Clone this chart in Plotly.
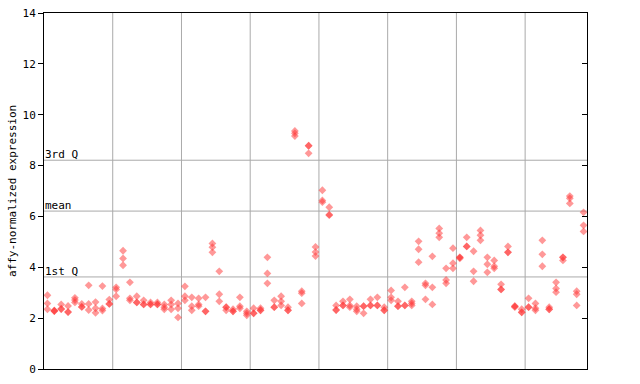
import plotly.graph_objects as go

# replicate expression values per sample (sample index 1..79)
sample_values = [
    [2.90, 2.58, 2.35], [2.28, 2.28, 2.30], [2.54, 2.36, 2.36], [2.48, 2.24, 2.24],
    [2.80, 2.71, 2.62], [2.56, 2.44, 2.44], [3.29, 2.56, 2.32], [2.63, 2.39, 2.21],
    [3.26, 2.38, 2.30], [2.73, 2.56, 2.56], [3.21, 3.13, 2.86], [4.65, 4.35, 4.08],
    [3.41, 2.78, 2.70], [2.86, 2.62, 2.62], [2.70, 2.54, 2.54], [2.62, 2.54, 2.54],
    [2.62, 2.54, 2.54], [2.54, 2.43, 2.35], [2.70, 2.54, 2.35], [2.58, 2.39, 2.03],
    [3.25, 2.86, 2.70], [2.82, 2.47, 2.31], [2.78, 2.54, 2.47], [2.82, 2.27, 2.27],
    [4.94, 4.79, 4.59], [3.84, 2.94, 2.66], [2.43, 2.43, 2.31], [2.35, 2.27, 2.27],
    [2.82, 2.47, 2.39], [2.27, 2.19, 2.11], [2.39, 2.19, 2.19], [2.39, 2.31, 2.31],
    [4.39, 3.76, 3.37], [2.70, 2.43, 2.43], [2.86, 2.66, 2.50], [2.43, 2.31, 2.31],
    [9.36, 9.27, 9.16], [3.06, 2.98, 2.58], [8.78, 8.78, 8.48], [4.80, 4.60, 4.44],
    [7.03, 6.63, 6.56], [6.36, 6.07, 6.05], [2.50, 2.32, 2.32], [2.66, 2.50, 2.50],
    [2.74, 2.50, 2.43], [2.47, 2.35, 2.27], [2.47, 2.47, 2.19], [2.74, 2.50, 2.50],
    [2.82, 2.50, 2.50], [2.43, 2.31, 2.31], [3.09, 2.82, 2.70], [2.66, 2.47, 2.47],
    [3.21, 2.50, 2.50], [2.66, 2.58, 2.50], [5.02, 4.71, 4.20], [3.37, 3.29, 2.74],
    [4.43, 3.21, 2.54], [5.53, 5.34, 5.18], [3.96, 3.50, 3.37], [4.75, 4.16, 3.96],
    [4.39, 4.39, 4.35], [5.18, 4.82, 4.82], [4.63, 3.84, 3.45], [5.45, 5.26, 5.06],
    [4.39, 4.12, 3.80], [4.27, 4.04, 3.96], [3.33, 3.13, 3.13], [4.82, 4.59, 4.59],
    [2.47, 2.47, 2.43], [2.35, 2.23, 2.23], [2.78, 2.43, 2.43], [2.58, 2.39, 2.31],
    [5.06, 4.51, 4.04], [2.43, 2.35, 2.35], [3.41, 3.17, 3.02], [4.39, 4.39, 4.27],
    [6.80, 6.71, 6.51], [3.06, 2.94, 2.50], [6.16, 5.65, 5.41],
]
group_boundaries = [10.5, 20.5, 30.5, 40.5, 50.5, 60.5, 70.5]
ref_lines = {"1st Q": 3.62, "mean": 6.21, "3rd Q": 8.21}
y_ticks = [0, 2, 4, 6, 8, 10, 12, 14]
y_title = "affy-normalized expression"

xs, ys = [], []
for i, vals in enumerate(sample_values, start=1):
    for v in vals:
        xs.append(i)
        ys.append(v)

FONT = "DejaVu Sans Mono"
fig = go.Figure()
fig.add_trace(go.Scatter(
    x=xs, y=ys, mode="markers",
    marker=dict(symbol="diamond", size=6, color="rgba(255,50,50,0.5)", line=dict(width=0)),
    hoverinfo="skip", showlegend=False,
))
# invisible trace for right-hand mirrored axis
fig.add_trace(go.Scatter(x=[1], y=[0], yaxis="y2", mode="markers",
                         marker=dict(opacity=0), showlegend=False, hoverinfo="skip"))

shapes = []
for b in group_boundaries:
    shapes.append(dict(type="line", xref="x", yref="paper", x0=b, x1=b, y0=0, y1=1,
                       line=dict(color="#aaaaaa", width=1), layer="below"))
annotations = []
for name, val in ref_lines.items():
    shapes.append(dict(type="line", xref="paper", yref="y", x0=0, x1=1, y0=val, y1=val,
                       line=dict(color="#aaaaaa", width=1), layer="below"))
    annotations.append(dict(text=name, xref="paper", yref="y", x=0, y=val,
                            xanchor="left", yanchor="bottom", showarrow=False,
                            font=dict(family=FONT, size=11, color="black"),
                            xshift=-1, yshift=-3))
# y-axis title as rotated annotation
annotations.append(dict(text=y_title, xref="paper", yref="paper", x=0, y=0.5,
                        xanchor="center", yanchor="middle", textangle=-90,
                        showarrow=False, xshift=-32,
                        font=dict(family=FONT, size=11, color="black")))

fig.update_layout(
    width=640, height=384,
    margin=dict(l=44, r=53, t=13, b=15),
    paper_bgcolor="white", plot_bgcolor="white",
    shapes=shapes, annotations=annotations,
    font=dict(family=FONT, size=11, color="black"),
    xaxis=dict(range=[0.5, 79.5], showticklabels=False, ticks="", showgrid=False,
               zeroline=False, showline=True, linecolor="black", linewidth=1, mirror=True,
               automargin=False),
    yaxis=dict(range=[0, 14], tickvals=y_ticks, ticks="outside", ticklen=5,
               tickcolor="black", showgrid=False, zeroline=False, showline=True,
               linecolor="black", linewidth=1, mirror=True, automargin=False,
               tickfont=dict(family=FONT, size=11)),
    yaxis2=dict(range=[0, 14], tickvals=y_ticks, overlaying="y", side="right",
                ticks="inside", ticklen=5, tickcolor="black", showticklabels=False,
                showgrid=False, zeroline=False, showline=False, automargin=False),
)
fig.write_html("out.html")
